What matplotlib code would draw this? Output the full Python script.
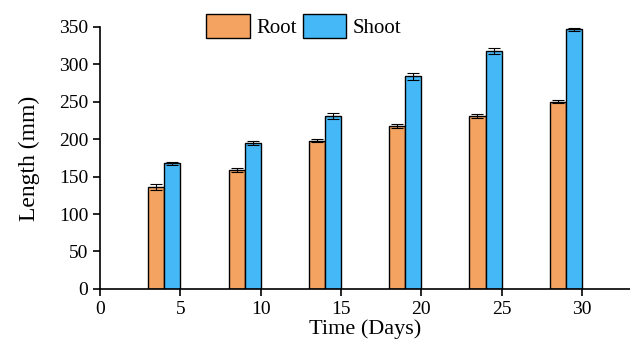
import matplotlib.pyplot as plt
import numpy as np

plt.rcParams['font.family'] = ['Liberation Serif', 'DejaVu Serif']

days = np.array([5, 10, 15, 20, 25, 30])
root = [136, 159, 198, 218, 231, 250]
root_err = [4, 3, 2, 3, 3, 2]
shoot = [168, 195, 231, 284, 318, 347]
shoot_err = [2, 3, 4, 5, 4, 2]

fig = plt.figure(figsize=(6.3, 3.46), dpi=100)
ax = fig.add_axes([0.159, 0.165, 0.841, 0.757])

err_kw = dict(ecolor='black', capsize=4, elinewidth=0.8, capthick=0.8)
ax.bar(days - 1.5, root, width=1, yerr=root_err, color='#F4A460',
       edgecolor='black', linewidth=1, label='Root', error_kw=err_kw)
ax.bar(days - 0.5, shoot, width=1, yerr=shoot_err, color='#45B9F8',
       edgecolor='black', linewidth=1, label='Shoot', error_kw=err_kw)

ax.set_xlim(0, 33)
ax.set_ylim(0, 350)
ax.set_xticks([0, 5, 10, 15, 20, 25, 30])
ax.set_yticks(range(0, 351, 50))
ax.spines['top'].set_visible(False)
ax.spines['right'].set_visible(False)
ax.spines['left'].set_linewidth(1.2)
ax.spines['bottom'].set_linewidth(1.2)
ax.tick_params(direction='out', length=5, width=1.2, labelsize=14)

ax.set_xlabel('Time (Days)', fontsize=16, labelpad=1)
ax.set_ylabel('Length (mm)', fontsize=17, labelpad=14)

ax.legend(loc='upper center', bbox_to_anchor=(0.384, 1.08), ncol=2, frameon=False,
          fontsize=15, handlelength=2.1, handleheight=1.4, handletextpad=0.3,
          columnspacing=0.3, borderaxespad=0)

fig.savefig('out.png', dpi=100)
